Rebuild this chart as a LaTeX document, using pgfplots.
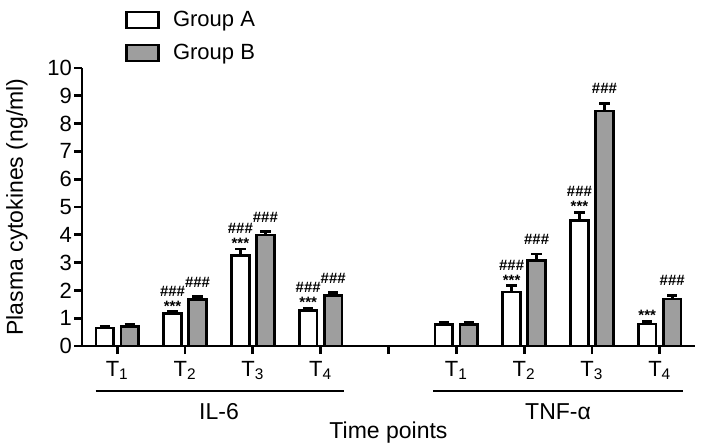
\documentclass[border=0pt]{standalone}
\usepackage{fontspec}
\setmainfont{Liberation Sans}
\usepackage{pgfplots}
\usepackage{pgfplotstable}
\pgfplotsset{compat=1.18}
\definecolor{barB}{RGB}{158,158,158}

\pgfplotstableread{
x y e lab
0 0.65 0.05 0
1 1.18 0.06 2
2 3.27 0.22 2
3 1.29 0.07 2
5 0.76 0.10 0
6 1.94 0.24 2
7 4.51 0.30 2
8 0.79 0.10 1
}\groupA
\pgfplotstableread{
x y e lab
0 0.70 0.09 0
1 1.68 0.09 3
2 3.99 0.12 3
3 1.83 0.09 3
5 0.76 0.09 0
6 3.09 0.22 3
7 8.45 0.28 3
8 1.69 0.13 3
}\groupB

\newcommand{\annot}[1]{\ifcase#1\relax\or ***\or \#\#\#\\***\or \#\#\#\fi}

\begin{document}
\begin{tikzpicture}
\useasboundingbox (-41pt,-50pt) rectangle (311.5pt,173pt);
\begin{axis}[
  at={(0,0)}, anchor=south west,
  scale only axis, width=306.5pt, height=139pt,
  xmin=-0.52, xmax=8.52, ymin=0, ymax=10,
  ybar, bar width=8.75pt,
  axis x line*=bottom, axis y line*=left,
  axis line style={line width=1.4pt},
  tick style={line width=1.4pt, black},
  tick align=outside, major tick length=4pt,
  xtick={0,...,8},
  xticklabels={T\textsubscript{1},T\textsubscript{2},T\textsubscript{3},T\textsubscript{4},,T\textsubscript{1},T\textsubscript{2},T\textsubscript{3},T\textsubscript{4}},
  ytick={0,...,10},
  /pgf/number format/assume math mode=true,
  tick label style={font=\fontsize{11}{13}\selectfont},
  yticklabel style={xshift=2.5pt},
  label style={font=\fontsize{11.5}{13}\selectfont},
  ylabel={Plasma cytokines (ng/ml)},
  ylabel style={at={(axis description cs:-0.106,0.5)}, anchor=center},
  xlabel={Time points},
  xlabel style={at={(axis description cs:0.5,-0.313)}, anchor=center},
  clip=false,
  legend style={at={(axis description cs:0.07,1.222)}, anchor=north west, draw=none,
    fill=none, inner sep=0pt, row sep=3.3pt, font=\fontsize{11}{12}\selectfont,
    cells={anchor=west}},
  legend image code/.code={\draw[#1, line width=1.3pt] (0pt,-4pt) rectangle (16pt,4pt); \path (20.5pt,0pt);},
  error bars/error bar style={line width=1.4pt, black},
  error bars/error mark options={rotate=90, mark size=2.6pt, line width=1.4pt, black},
]
\addplot[bar shift=-6.25pt, draw=black, line width=1.4pt, fill=white,
  error bars/.cd, y dir=plus, y explicit]
  table[x=x, y=y, y error=e] {\groupA};
\addlegendentry{Group A}
\addplot[bar shift=6.25pt, draw=black, line width=1.4pt, fill=barB,
  error bars/.cd, y dir=plus, y explicit]
  table[x=x, y=y, y error=e] {\groupB};
\addlegendentry{Group B}

\addplot[forget plot, bar shift=-6.25pt, draw=none, fill=none,
  nodes near coords={\annot{\pgfplotspointmeta}},
  point meta=explicit symbolic,
  nodes near coords style={anchor=south, yshift=0pt, align=center,
    inner sep=0pt, font=\bfseries\fontsize{7.5}{7.45}\selectfont, text=black}]
  table[x=x, y expr=\thisrow{y}+\thisrow{e}, meta=lab] {\groupA};
\addplot[forget plot, bar shift=6.25pt, draw=none, fill=none,
  nodes near coords={\annot{\pgfplotspointmeta}},
  point meta=explicit symbolic,
  nodes near coords style={anchor=south, yshift=4.6pt, align=center,
    inner sep=0pt, font=\bfseries\fontsize{7.5}{7.45}\selectfont, text=black}]
  table[x=x, y expr=\thisrow{y}+\thisrow{e}, meta=lab] {\groupB};

\draw[line width=1.3pt] ([yshift=-22.5pt]axis cs:-0.32,0) -- ([yshift=-22.5pt]axis cs:3.35,0);
\draw[line width=1.3pt] ([yshift=-22.5pt]axis cs:4.66,0) -- ([yshift=-22.5pt]axis cs:8.35,0);
\node[font=\fontsize{11.5}{13}\selectfont] at ([yshift=-33pt]axis cs:1.5,0) {IL-6};
\node[font=\fontsize{11.5}{13}\selectfont] at ([yshift=-33pt]axis cs:6.5,0) {TNF-α};
\end{axis}
\end{tikzpicture}
\end{document}
